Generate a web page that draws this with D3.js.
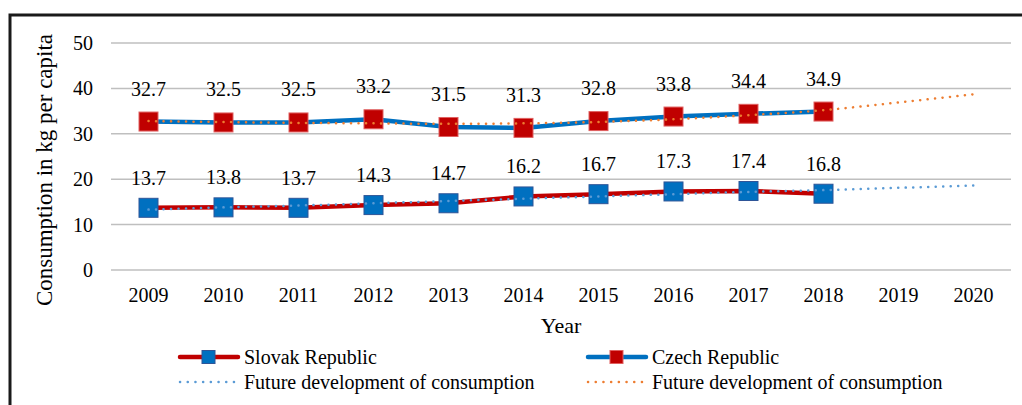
<!DOCTYPE html>
<html>
<head>
<meta charset="utf-8">
<script src="https://cdn.jsdelivr.net/npm/d3@7"></script>
<style>
  body { margin: 0; background: #fff; }
  text { font-family: "Liberation Serif", "Times New Roman", serif; fill: #000; }
</style>
</head>
<body>
<div id="chart"></div>
<script>
var years = ['2009', '2010', '2011', '2012', '2013', '2014', '2015', '2016', '2017', '2018', '2019', '2020']
var slovak = [13.7, 13.8, 13.7, 14.3, 14.7, 16.2, 16.7, 17.3, 17.4, 16.8]
var czech = [32.7, 32.5, 32.5, 33.2, 31.5, 31.3, 32.8, 33.8, 34.4, 34.9]
// trend lines
var slovakTrend = [13.3, 13.8, 14.2, 14.7, 15.2, 15.7, 16.2, 16.7, 17.2, 17.6, 18.1, 18.6]
var czechTrend = [32.8, 32.6, 32.4, 32.3, 32.2, 32.3, 32.6, 33.2, 34.1, 35.2, 36.9, 38.7]
var yTicks = [0, 10, 20, 30, 40, 50]

var width = 1022, height = 405
var margin = { left: 111, right: 11, top: 43, bottom: 135 }

var svg = d3.select('#chart').append('svg')
    .attr('width', width)
    .attr('height', height)

// frame
svg.append('rect')
    .attr('x', 10).attr('y', 15)
    .attr('width', width + 20).attr('height', height + 20)
    .attr('fill', 'none')
    .attr('stroke', '#1a1a1a')
    .attr('stroke-width', 3)

var x = d3.scaleBand()
    .domain(years)
    .range([margin.left, width - margin.right])

var y = d3.scaleLinear()
    .domain([0, 50])
    .range([height - margin.bottom, margin.top])

var cx = d => x(d) + x.bandwidth() / 2

// gridlines
svg.append('g')
    .selectAll('line')
    .data(yTicks)
    .join('line')
    .attr('x1', margin.left).attr('x2', width - margin.right)
    .attr('y1', d => y(d)).attr('y2', d => y(d))
    .attr('stroke', '#bfbfbf')
    .attr('stroke-width', 1.5)

// y tick labels
svg.append('g')
    .selectAll('text')
    .data(yTicks)
    .join('text')
    .attr('x', 93)
    .attr('y', d => y(d))
    .attr('dy', '0.35em')
    .attr('text-anchor', 'end')
    .attr('font-size', 20)
    .text(d => d)

// x tick labels
svg.append('g')
    .selectAll('text')
    .data(years)
    .join('text')
    .attr('x', d => cx(d))
    .attr('y', 302)
    .attr('text-anchor', 'middle')
    .attr('font-size', 20)
    .text(d => d)

svg.append('text')
    .attr('x', 561).attr('y', 333)
    .attr('text-anchor', 'middle')
    .attr('font-size', 22)
    .text('Year')

svg.append('text')
    .attr('transform', `translate(52,${170}) rotate(-90)`)
    .attr('text-anchor', 'middle')
    .attr('font-size', 23)
    .text('Consumption in kg per capita')

var line = d3.line()
    .x((d, i) => cx(years[i]))
    .y(d => y(d))

function series(values, lineColor, markerFill, markerStroke) {
    svg.append('path')
        .datum(values)
        .attr('d', line)
        .attr('fill', 'none')
        .attr('stroke', lineColor)
        .attr('stroke-width', 4.5)
        .attr('stroke-linejoin', 'round')
    return function markers() {
        svg.append('g')
            .selectAll('rect')
            .data(values)
            .join('rect')
            .attr('x', (d, i) => cx(years[i]) - 9.5)
            .attr('y', d => y(d) - 9.5)
            .attr('width', 19).attr('height', 19)
            .attr('fill', markerFill)
            .attr('stroke', markerStroke)
            .attr('stroke-width', 1)
    }
}

function trend(values, color) {
    svg.append('path')
        .datum(values)
        .attr('d', d3.line().curve(d3.curveMonotoneX).x((d, i) => cx(years[i])).y(d => y(d)))
        .attr('fill', 'none')
        .attr('stroke', color)
        .attr('stroke-width', 2.5)
        .attr('stroke-linecap', 'round')
        .attr('stroke-dasharray', '0.1 7.4')
}

function labels(values, offset) {
    svg.append('g')
        .selectAll('text')
        .data(values)
        .join('text')
        .attr('x', (d, i) => cx(years[i]))
        .attr('y', d => y(d) - offset)
        .attr('text-anchor', 'middle')
        .attr('font-size', 20)
        .text(d => d.toFixed(1))
}

var slovakMarkers = series(slovak, '#c00000', '#0070c0', '#2f5597')
var czechMarkers = series(czech, '#0070c0', '#c00000', '#e06060')
slovakMarkers()
czechMarkers()
trend(slovakTrend, '#5b9bd5')
trend(czechTrend, '#ed7d31')
labels(slovak, 23)
labels(czech, 26)

// legend
var legend = [
    { label: 'Slovak Republic', x: 178, y: 357, line: '#c00000', marker: '#0070c0', mstroke: '#2f5597' },
    { label: 'Czech Republic', x: 586, y: 357, line: '#0070c0', marker: '#c00000', mstroke: '#e06060' },
    { label: 'Future development of consumption', x: 178, y: 382, dot: '#5b9bd5' },
    { label: 'Future development of consumption', x: 586, y: 382, dot: '#ed7d31' }
]

var lg = svg.append('g').selectAll('g').data(legend).join('g')
    .attr('transform', d => `translate(${d.x},${d.y})`)

lg.filter(d => d.line).append('line')
    .attr('x1', 2).attr('x2', 60)
    .attr('stroke', d => d.line)
    .attr('stroke-width', 4.5)
    .attr('stroke-linecap', 'round')
lg.filter(d => d.line).append('rect')
    .attr('x', 24).attr('y', -6.5)
    .attr('width', 13).attr('height', 13)
    .attr('fill', d => d.marker)
    .attr('stroke', d => d.mstroke)
lg.filter(d => d.dot).append('line')
    .attr('x1', 2).attr('x2', 56)
    .attr('stroke', d => d.dot)
    .attr('stroke-width', 2.5)
    .attr('stroke-linecap', 'round')
    .attr('stroke-dasharray', '0.1 7.6')
lg.append('text')
    .attr('x', 66)
    .attr('dy', '0.35em')
    .attr('font-size', 20)
    .text(d => d.label)
</script>
</body>
</html>
